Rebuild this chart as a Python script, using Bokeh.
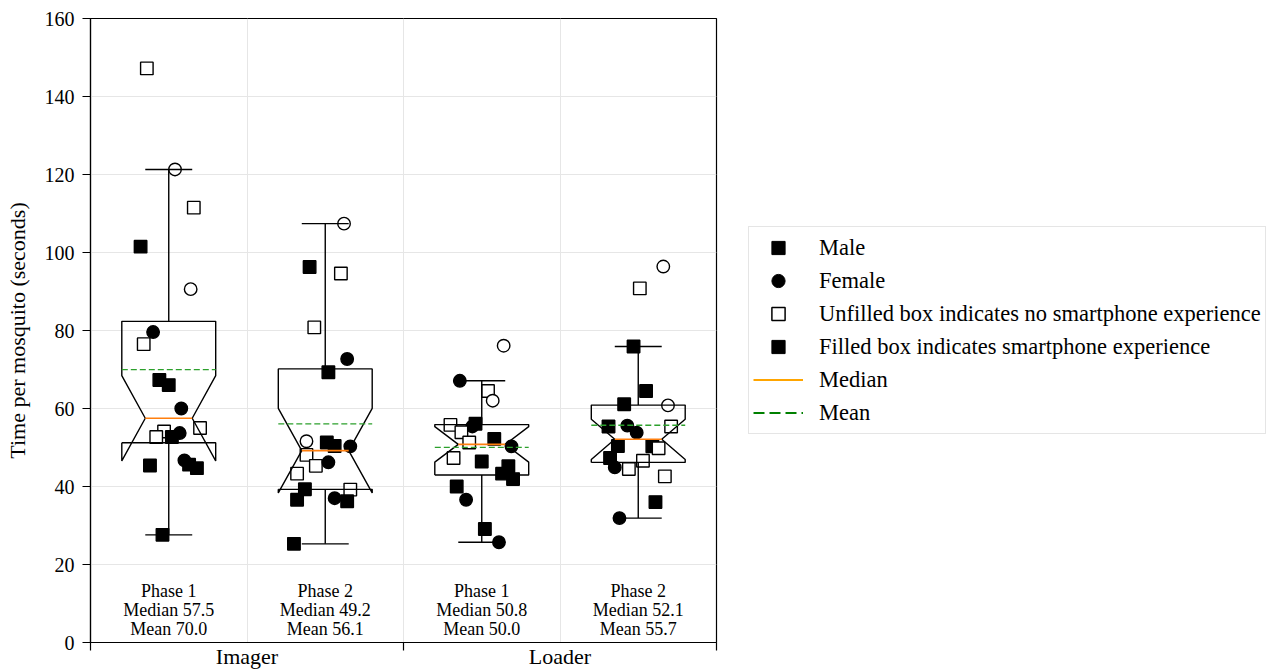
import numpy as np
from bokeh.plotting import figure
from bokeh.layouts import row
from bokeh.models import ColumnDataSource, FixedTicker, Legend, LegendItem, Range1d
from bokeh.core.properties import value
from bokeh.embed import file_html
from bokeh.resources import INLINE

# ---------------- data ----------------
roles = ["Imager", "Loader"]
phases = ["Phase 1", "Phase 2", "Phase 1", "Phase 2"]

# Imager, Phase 1
times_1 = [147.2, 121.3, 111.5, 101.5, 90.6, 79.6, 76.5, 67.3, 66.0, 60.0,
           55.0, 54.1, 52.7, 53.7, 52.7, 45.4, 46.7, 45.6, 44.7, 27.6]
gender_1 = ["M", "F", "M", "M", "F", "F", "M", "M", "M", "F",
            "M", "M", "M", "F", "M", "M", "F", "M", "M", "M"]
phone_1 = [0, 0, 0, 1, 0, 1, 0, 1, 1, 1, 0, 0, 0, 1, 1, 1, 1, 1, 1, 1]
jitter_1 = [-0.14, 0.04, 0.16, -0.18, 0.14, -0.10, -0.16, -0.06, 0.00, 0.08,
            0.20, -0.03, -0.08, 0.07, 0.02, -0.12, 0.10, 0.13, 0.18, -0.04]

# Imager, Phase 2
times_2 = [107.4, 96.3, 94.6, 80.8, 72.7, 69.3, 51.6, 51.3, 50.4, 50.3,
           48.1, 45.3, 46.2, 43.3, 39.3, 39.2, 36.6, 37.0, 36.2, 25.3]
gender_2 = ["F", "M", "M", "M", "F", "M", "F", "M", "M", "F",
            "M", "M", "F", "M", "M", "M", "M", "F", "M", "M"]
phone_2 = [0, 1, 0, 0, 1, 1, 0, 1, 1, 1, 0, 0, 1, 0, 1, 0, 1, 1, 1, 1]
jitter_2 = [0.12, -0.10, 0.10, -0.07, 0.14, 0.02, -0.12, 0.01, 0.06, 0.16,
            -0.12, -0.06, 0.02, -0.18, -0.13, 0.16, -0.18, 0.06, 0.14, -0.20]

# Loader, Phase 1
times_3 = [76.1, 67.1, 64.5, 62.0, 55.8, 56.1, 55.4, 53.9, 51.3, 52.2,
           50.3, 47.3, 46.4, 45.2, 43.3, 41.9, 40.0, 36.6, 29.1, 25.7]
gender_3 = ["F", "F", "M", "F", "M", "M", "F", "M", "M", "M",
            "F", "M", "M", "M", "M", "M", "M", "F", "M", "F"]
phone_3 = [0, 1, 0, 0, 0, 1, 1, 0, 0, 1, 1, 0, 1, 1, 1, 1, 1, 1, 1, 1]
jitter_3 = [0.14, -0.14, 0.04, 0.07, -0.20, -0.04, -0.06, -0.13, -0.08, 0.08,
            0.19, -0.18, 0.00, 0.17, 0.13, 0.20, -0.16, -0.10, 0.02, 0.11]

# Loader, Phase 2
times_4 = [96.4, 90.8, 75.9, 64.5, 61.1, 60.8, 55.4, 55.6, 53.8, 55.4,
           50.4, 50.3, 49.8, 47.3, 46.6, 44.9, 44.5, 42.6, 36.0, 31.9]
gender_4 = ["F", "M", "M", "M", "M", "F", "M", "F", "F", "M",
            "M", "M", "M", "M", "M", "F", "M", "M", "M", "F"]
phone_4 = [0, 0, 1, 1, 1, 0, 1, 1, 1, 0, 1, 1, 0, 1, 0, 1, 0, 0, 1, 1]
jitter_4 = [0.16, 0.01, -0.03, 0.05, -0.09, 0.19, -0.19, -0.07, -0.01, 0.21,
            -0.13, 0.09, 0.13, -0.18, 0.03, -0.15, -0.06, 0.17, 0.11, -0.12]

y_ticks = [0, 20, 40, 60, 80, 100, 120, 140, 160]

legend_labels = ["Male", "Female",
                 "Unfilled box indicates no smartphone experience",
                 "Filled box indicates smartphone experience",
                 "Median", "Mean"]

groups = [
    (times_1, gender_1, phone_1, jitter_1),
    (times_2, gender_2, phone_2, jitter_2),
    (times_3, gender_3, phone_3, jitter_3),
    (times_4, gender_4, phone_4, jitter_4),
]

# ---------------- main figure ----------------
FONT = "Liberation Serif"
p = figure(width=720, height=671, x_range=Range1d(0.5, 4.5), y_range=Range1d(0, 160),
           output_backend="svg", toolbar_location=None,
           min_border_left=90, min_border_right=4, min_border_top=18, min_border_bottom=10)
p.outline_line_color = "black"
p.outline_line_width = 1.2
p.background_fill_color = "white"
p.border_fill_color = "white"

# grids
p.ygrid.ticker = FixedTicker(ticks=y_ticks)
p.xgrid.ticker = FixedTicker(ticks=[1.5, 2.5, 3.5])
for g in (p.xgrid, p.ygrid):
    g.grid_line_color = "#e6e6e6"
    g.grid_line_width = 1

# y axis
p.yaxis.ticker = FixedTicker(ticks=y_ticks)
p.yaxis.axis_label = "Time per mosquito (seconds)"
p.yaxis.axis_label_text_font = FONT
p.yaxis.axis_label_text_font_size = "22px"
p.yaxis.axis_label_text_font_style = "normal"
p.yaxis.axis_label_text_color = "black"
p.yaxis.axis_label_standoff = 12
p.yaxis.major_label_text_font = FONT
p.yaxis.major_label_text_font_size = "20px"
p.yaxis.major_label_text_color = "black"
p.yaxis.major_label_standoff = 8
p.yaxis.major_tick_out = 8
p.yaxis.major_tick_in = 0
p.yaxis.minor_tick_out = 0
p.yaxis.minor_tick_in = 0
p.yaxis.axis_line_width = 1.2
p.yaxis.major_tick_line_width = 1.2

# x axis: labels at group centres, tick marks at group boundaries
p.xaxis.ticker = FixedTicker(ticks=[1.5, 3.5], minor_ticks=[0.5, 2.5, 4.5])
p.xaxis.major_label_overrides = {1.5: roles[0], 3.5: roles[1]}
p.xaxis.major_label_text_font = FONT
p.xaxis.major_label_text_font_size = "22px"
p.xaxis.major_label_text_color = "black"
p.xaxis.major_label_standoff = -7
p.xaxis.major_tick_out = 0
p.xaxis.major_tick_in = 0
p.xaxis.minor_tick_out = 8
p.xaxis.minor_tick_in = 0
p.xaxis.minor_tick_line_width = 1.2
p.xaxis.axis_line_width = 1.2

# ---------------- points ----------------
px, py, pm, pf = [], [], [], []
for i, (t, g, ph, j) in enumerate(groups):
    pos = i + 1
    for tv, gv, phv, jv in zip(t, g, ph, j):
        px.append(pos + jv)
        py.append(tv)
        pm.append("square" if gv == "M" else "circle")
        pf.append("black" if phv else "white")
pts = ColumnDataSource(dict(x=px, y=py, marker=pm, fill=pf))
p.scatter("x", "y", source=pts, marker="marker", size=12.5, fill_color="fill",
          line_color="black", line_width=1.4)

# ---------------- boxes ----------------
box_xs, box_ys, wh_xs, wh_ys, med_xs, med_ys, mean_xs, mean_ys = [], [], [], [], [], [], [], []
lab_x, lab_text = [], []
HW = 0.3   # half box width
CW = 0.15  # half cap / notch waist width
for i, (t, g, ph, j) in enumerate(groups):
    pos = i + 1
    v = np.asarray(t, dtype=float)
    q1, med, q3 = np.percentile(v, [25, 50, 75])
    iqr = q3 - q1
    lo = v[v >= q1 - 1.5 * iqr].min()
    hi = v[v <= q3 + 1.5 * iqr].max()
    ci = 1.57 * iqr / np.sqrt(len(v))
    nlo, nhi = med - ci, med + ci
    mean = v.mean()
    L, R, cl, cr = pos - HW, pos + HW, pos - CW, pos + CW
    box_xs.append([L, R, R, cr, R, R, L, L, cl, L, L])
    box_ys.append([q1, q1, nlo, med, nhi, q3, q3, nhi, med, nlo, q1])
    wh_xs += [[pos, pos], [pos, pos], [cl, cr], [cl, cr]]
    wh_ys += [[q1, lo], [q3, hi], [lo, lo], [hi, hi]]
    med_xs.append([cl, cr]); med_ys.append([med, med])
    mean_xs.append([L, R]); mean_ys.append([mean, mean])
    lab_x.append(pos)
    lab_text.append(f"{phases[i]}\nMedian {med:.1f}\nMean {mean:.1f}")

p.multi_line(box_xs, box_ys, line_color="black", line_width=1.4)
p.multi_line(wh_xs, wh_ys, line_color="black", line_width=1.4)
p.multi_line(med_xs, med_ys, line_color="#ff7f0e", line_width=1.6)
p.multi_line(mean_xs, mean_ys, line_color="#2ca02c", line_width=1.3, line_dash="6 3")

p.text(x=lab_x, y=[15.7] * len(lab_x), text=lab_text, text_align="center",
       text_baseline="top", text_font=value(FONT), text_font_size="18px",
       text_line_height=0.955, text_color="black")

# ---------------- legend (own panel to the right) ----------------
q = figure(width=554, height=671, x_range=Range1d(0, 1), y_range=Range1d(0, 1),
           output_backend="svg", toolbar_location=None,
           min_border=0, min_border_left=0, min_border_right=0,
           min_border_top=0, min_border_bottom=0)
q.axis.visible = False
q.grid.visible = False
q.outline_line_color = None
q.background_fill_color = "white"
q.border_fill_color = "white"

# legend proxies: they reuse the point data, which lies outside this panel's range
r_male = q.scatter("x", "y", source=pts, marker="square", fill_color="black",
                   line_color="black", size=12)
r_fem = q.scatter("x", "y", source=pts, marker="circle", fill_color="black",
                  line_color="black", size=12)
r_open = q.scatter("x", "y", source=pts, marker="square", fill_color="white",
                   line_color="black", line_width=1.5, size=12)
r_fill = q.scatter("x", "y", source=pts, marker="square", fill_color="black",
                   line_color="black", size=12)
r_med = q.line("x", "y", source=pts, line_color="orange", line_width=2)
r_mean = q.line("x", "y", source=pts, line_color="green", line_width=2, line_dash="11 5")

legend = Legend(items=[LegendItem(label=lab, renderers=[r]) for lab, r in
                       zip(legend_labels, [r_male, r_fem, r_open, r_fill, r_med, r_mean])],
                location=(28, 208))
legend.label_text_font = FONT
legend.label_text_font_size = "22.5px"
legend.label_text_color = "black"
legend.glyph_width = 50
legend.glyph_height = 33
legend.label_height = 33
legend.spacing = 0
legend.padding = 4
legend.label_standoff = 16
legend.margin = 0
legend.border_line_color = "#cccccc"
legend.border_line_width = 1
legend.background_fill_color = "white"
legend.background_fill_alpha = 1.0
q.add_layout(legend, "center")

layout = row(p, q)
open("out.html", "w").write(file_html(layout, INLINE))
